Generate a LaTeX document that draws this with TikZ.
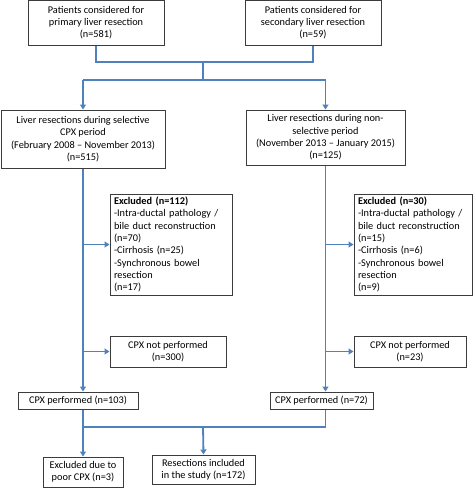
\documentclass[tikz,border=0pt]{standalone}
\usepackage{fontspec}
\setmainfont{Carlito}
\usetikzlibrary{arrows.meta}
\definecolor{flowblue}{RGB}{79,129,189}
\definecolor{boxgray}{RGB}{60,60,60}

\begin{document}
\begin{tikzpicture}[x=1pt, y=-1pt,
        box/.style 2 args={draw=boxgray, line width=1pt, inner sep=1pt,
            minimum width=#1, minimum height=#2,
            font=\fontsize{10.3}{12.3}\selectfont, align=center},
        leftbox/.style 2 args={box={#1}{#2}, text width=#1-8, align=left},
        flow/.style={draw=flowblue, line width=1.8pt},
        arr/.style={flow, -{Triangle[length=5pt, width=6pt]}}]

        \useasboundingbox (0,0) rectangle (473,488);

        % sources
        \node[box={136}{45}] (pA) at (96, 22.5) {Patients considered for\\primary liver resection\\(n=581)};
        \node[box={136}{45}] (pB) at (313, 22.5) {Patients considered for\\secondary liver resection\\(n=59)};

        % two periods
        \node[box={164}{58}] (lC) at (83, 139) {Liver resections during selective\\CPX period\\(February 2008 -- November 2013)\\(n=515)};
        \node[box={159}{55}] (lD) at (325.5, 137.5) {Liver resections during non-\\selective period\\(November 2013 -- January 2015)\\(n=125)};

        % exclusions
        \node[leftbox={122}{101}] (ex1) at (171, 244.5) {\textbf{Excluded (n=112)}\\-Intra-ductal pathology /\\bile duct reconstruction\\(n=70)\\-Cirrhosis (n=25)\\-Synchronous bowel\\resection\\(n=17)};
        \node[leftbox={118}{101}] (ex2) at (413, 244.5) {\textbf{Excluded (n=30)}\\-Intra-ductal pathology /\\bile duct reconstruction\\(n=15)\\-Cirrhosis (n=6)\\-Synchronous bowel\\resection\\(n=9)};

        \node[box={116}{31}] (np1) at (168, 351.5) {CPX not performed\\(n=300)};
        \node[box={112}{31}] (np2) at (410, 351.5) {CPX not performed\\(n=23)};

        \node[box={120}{17}] (pf1) at (78, 400.5) {CPX performed (n=103)};
        \node[box={103}{17}] (pf2) at (321.5, 400.5) {CPX performed (n=72)};

        % outcome
        \node[box={80}{30}] (ec) at (83, 472) {Excluded due to\\poor CPX (n=3)};
        \node[box={103}{29}] (ri) at (203.5, 469.5) {Resections included\\in the study (n=172)};

        \coordinate (j1) at (203, 62);
        \coordinate (j2) at (203, 80);
        \coordinate (cl) at (83, 80);
        \coordinate (cr) at (325.5, 80);
        \coordinate (j3) at (203, 427);

        \draw[flow] (pA.south) |- (j1) -| (pB.south);
        \draw[flow] (j1) -- (j2);
        \draw[flow] (cl) -- (cr);
        \draw[arr] (cl) -- (lC.north);
        \draw[arr] (cr) -- (lD.north);

        \draw[arr] (lC.south) -- (lC.south |- pf1.north);
        \draw[arr] (cl |- ex1.west) -- (ex1.west);
        \draw[arr] (cl |- np1.west) -- (np1.west);

        \draw[arr] (lD.south) -- (lD.south |- pf2.north);
        \draw[arr] (lD.south |- ex2.west) -- (ex2.west);
        \draw[arr] (lD.south |- np2.west) -- (np2.west);

        \draw[flow] (cl |- pf1.south) |- (lD.south |- j3) -- (lD.south |- pf2.south);
        \draw[arr] (cl |- j3) -- (ec.north);
        \draw[arr] (j3) -- (ri.north);

\end{tikzpicture}
\end{document}
